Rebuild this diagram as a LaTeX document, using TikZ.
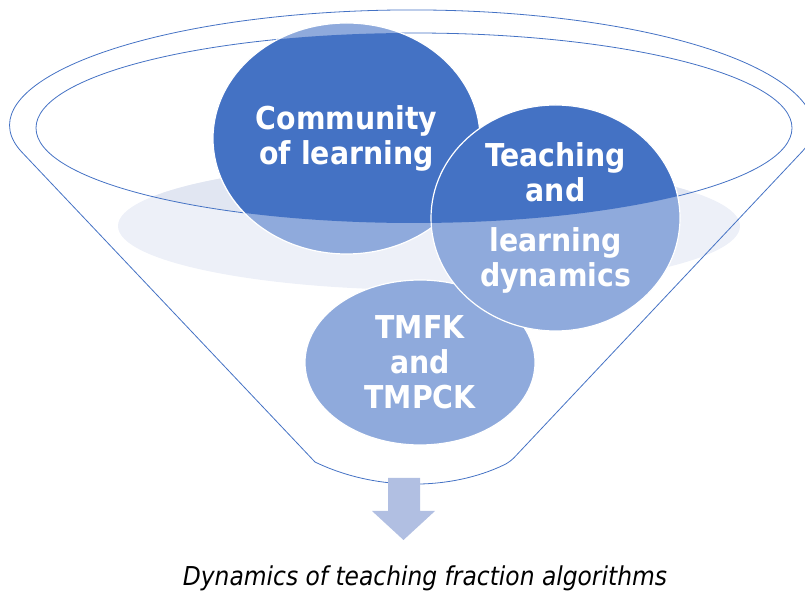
\documentclass[tikz,border=0pt]{standalone}
\usepackage{fontspec}
\setmainfont{DejaVu Sans Condensed}
\usetikzlibrary{shapes}
\definecolor{darkblob}{HTML}{4472C4}
\definecolor{lightblob}{HTML}{8FAADC}
\definecolor{rimline}{HTML}{4472C4}
\definecolor{shadow}{HTML}{EDF0F8}
\definecolor{shadowin}{HTML}{E1E6F2}
\definecolor{flow}{HTML}{B1BFE2}
\tikzstyle{blob}=[ellipse,fill=lightblob,draw=white,line width=1.2pt,inner sep=0pt]
\tikzstyle{blobtext}=[text=white,font=\fontsize{31.5}{35}\selectfont\bfseries,align=center]
\tikzstyle{rim}=[draw=rimline,line width=0.8pt]

\begin{document}
\begin{tikzpicture}[x=1pt,y=1pt]
\useasboundingbox (0,0) rectangle (805,594);

% shadow under the contents
\fill[shadow] (429,368) ellipse [x radius=311,y radius=64];
\begin{scope}
\clip (414,466) ellipse [x radius=378,y radius=95];
\fill[shadowin] (429,368) ellipse [x radius=311,y radius=64];
\end{scope}

% funnel
\draw[rim,rounded corners=6pt] (315,132) -- (17,447)
    arc[start angle=189.3,end angle=-9.3,x radius=400,y radius=118]
    -- (510,132) .. controls (450,103) and (375,103) .. (315,132);
\draw[rim] (414,466) ellipse [x radius=378,y radius=95];

% contents
\node[blob,minimum width=230pt,minimum height=165pt] (tmfk) at (420,231.5) {};
\node[blob,minimum width=267pt,minimum height=231pt] (community) at (346.5,455.5) {};
\node[blob,minimum width=249pt,minimum height=226pt] (teaching) at (555.5,376) {};

\begin{scope}
\clip (414,466) ellipse [x radius=378,y radius=95];
\foreach \b/\rx/\ry in {community/133.5/115.5,teaching/124.5/113}{
    \filldraw[fill=darkblob,draw=white,line width=1.2pt] (\b.center) ellipse [x radius=\rx,y radius=\ry];
}
\end{scope}

\node[blobtext] (communitytext) at (community) {Community\\of learning};
\node[blobtext] (teachingtext) at (teaching) {Teaching\\and\\[15pt]learning\\dynamics};
\node[blobtext] (tmfktext) at (tmfk) {TMFK\\and\\TMPCK};

% outflow
\fill[flow] (388,116) -- (420,116) -- (420,83) -- (435,83) -- (403.5,54) -- (372,83) -- (388,83) -- cycle;
\node[font=\fontsize{26}{30}\selectfont\itshape] (caption) at (425,16) {Dynamics of teaching fraction algorithms};
\end{tikzpicture}
\end{document}
